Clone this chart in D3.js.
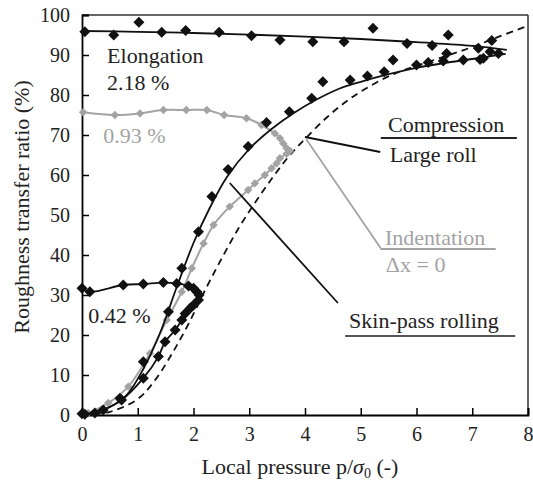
<!DOCTYPE html>
<html>
<head>
<meta charset="utf-8">
<script src="https://cdn.jsdelivr.net/npm/d3@7"></script>
<style>
  body { margin: 0; background: #fff; }
  text { font-family: "Liberation Serif", "Times New Roman", serif; }
</style>
</head>
<body>
<div id="chart"></div>
<script>
var width = 533, height = 483;
var plotLeft = 82, plotRight = 528, plotTop = 15, plotBottom = 415;

var xTicks = [0, 1, 2, 3, 4, 5, 6, 7, 8];
var yTicks = [0, 10, 20, 30, 40, 50, 60, 70, 80, 90, 100];

// elongation 2.18 % (black, top)
var elongPts = [[0.05, 95.8], [0.57, 95.0], [1.02, 98.2], [1.43, 95.7], [1.86, 96.1], [2.46, 95.7],
  [3.04, 94.8], [3.55, 93.75], [4.14, 93.3], [4.70, 93.3], [5.22, 96.7], [5.83, 92.9], [6.28, 92.4],
  [6.57, 95.0], [7.11, 91.7], [7.35, 93.6]];
var elongFit = [[0, 96], [1, 95.8], [2, 95.5], [3, 95.1], [4, 94.6], [5, 94], [6, 93.2], [7, 92.3], [7.62, 91.3]];

// compression / large roll (black, upper rising curve)
var compPts = [[0, 0.3], [0.68, 4.2], [1.10, 13.3], [1.55, 25.8], [1.79, 36.7], [2.09, 45.8], [2.33, 54.6],
  [2.62, 61.4], [2.98, 67.1], [3.31, 73.1], [3.72, 75.8], [4.12, 79.2], [4.32, 83.3], [4.81, 83.75],
  [5.12, 84.75], [5.42, 85.8], [5.58, 88.75], [6.0, 87.5], [6.21, 88.1], [6.48, 88.5], [6.54, 90.4],
  [6.84, 88.75], [7.14, 88.9], [7.2, 89.2], [7.32, 90.8], [7.47, 90.4]];
var compFit = [[0, 0], [0.5, 2], [0.8, 5], [1.1, 11.5], [1.4, 20.5], [1.7, 32], [2.0, 43], [2.3, 52],
  [2.6, 59.5], [3.0, 66.5], [3.4, 71.5], [3.8, 75.5], [4.2, 78.8], [4.6, 81.5], [5.0, 83.3], [5.5, 85.2],
  [6.0, 86.8], [6.5, 88], [7.0, 89], [7.6, 90.3]];

// skin-pass 0.42 % (black, hook)
var skinPts = [[0, 31.7], [0.14, 30.8], [0.74, 32.5], [1.10, 32.75], [1.46, 33.1], [1.70, 32.9],
  [1.91, 32.25], [2.0, 31.7], [2.06, 30.8], [2.10, 30], [2.09, 28.75], [2.0, 27.5], [1.94, 26.7],
  [1.85, 25.4], [1.79, 23.75], [1.67, 21.25], [1.49, 18.3], [1.37, 14.6], [1.10, 9.2], [0.71, 3.75],
  [0.38, 1.25], [0.23, 0.5], [0.05, 0.2]];

// indentation / 0.93 % (grey)
var indentPts = [[0.02, 75.7], [0.59, 75.0], [1.04, 75.4], [1.46, 76.25], [1.87, 76.25], [2.24, 76.25],
  [2.55, 75.0], [2.95, 74.2], [3.22, 72.5], [3.46, 70.4], [3.55, 69.2], [3.61, 67.9], [3.67, 66.7],
  [3.73, 66.0], [3.67, 65.3], [3.55, 64.2], [3.49, 62.9], [3.40, 61.7], [3.28, 60], [3.10, 57.9],
  [2.98, 56.25], [2.65, 52.1], [2.36, 47.5], [2.18, 42.9], [1.97, 36.7], [1.79, 30.8], [1.52, 23.75],
  [1.22, 15.4], [0.83, 7.1], [0.47, 3], [0.11, 0.5]];

// model (dashed)
var modelFit = [[0, 0], [0.5, 0.8], [1.0, 4], [1.3, 8.5], [1.6, 15], [1.9, 22.5], [2.2, 31], [2.5, 39],
  [2.8, 46.5], [3.1, 53], [3.4, 59], [3.7, 64.5], [4.0, 69], [4.4, 74.5], [4.8, 79], [5.2, 82.5],
  [5.6, 85.3], [6.0, 87.3], [6.5, 89.6], [7.0, 92], [7.5, 94.7], [8.0, 97.3]];

var svg = d3.select("#chart").append("svg").attr("width", width).attr("height", height);

var x = d3.scaleLinear().domain([0, 8]).range([plotLeft, plotRight]);
var y = d3.scaleLinear().domain([0, 100]).range([plotBottom, plotTop]);

var smooth = d3.line().x(function(d) { return x(d[0]); }).y(function(d) { return y(d[1]); }).curve(d3.curveCatmullRom.alpha(0.5));

var diamond = function(r) {
  return "M0," + (-r) + "L" + r + ",0L0," + r + "L" + (-r) + ",0Z";
};

// frame
svg.append("line").attr("x1", plotLeft).attr("x2", plotRight).attr("y1", plotTop).attr("y2", plotTop).attr("stroke", "#333").attr("stroke-width", 1.5);
svg.append("line").attr("x1", plotRight).attr("x2", plotRight).attr("y1", plotTop).attr("y2", plotBottom).attr("stroke", "#333").attr("stroke-width", 1.5);

// axes
var xAxis = d3.axisBottom(x).tickValues(xTicks).tickSize(-7).tickPadding(12);
var yAxis = d3.axisLeft(y).tickValues(yTicks).tickSize(-7).tickPadding(12);

var gx = svg.append("g").attr("transform", "translate(0," + plotBottom + ")").call(xAxis);
var gy = svg.append("g").attr("transform", "translate(" + plotLeft + ",0)").call(yAxis);
[gx, gy].forEach(function(g) {
  g.select(".domain").attr("stroke", "#000").attr("stroke-width", 1.8);
  g.selectAll(".tick line").attr("stroke", "#000").attr("stroke-width", 1.5);
  g.selectAll(".tick text").attr("font-family", "Liberation Serif, serif").attr("font-size", 20).attr("fill", "#222");
});

// curves
svg.append("path").attr("d", smooth(modelFit)).attr("fill", "none").attr("stroke", "#111")
  .attr("stroke-width", 1.8).attr("stroke-dasharray", "7,5");

svg.append("path").attr("d", smooth(indentPts)).attr("fill", "none").attr("stroke", "#a3a3a3").attr("stroke-width", 2);
svg.selectAll(".grey").data(indentPts).enter().append("path").attr("class", "grey")
  .attr("d", diamond(4.2)).attr("fill", "#a3a3a3")
  .attr("transform", function(d) { return "translate(" + x(d[0]) + "," + y(d[1]) + ")"; });

svg.append("path").attr("d", smooth(elongFit)).attr("fill", "none").attr("stroke", "#111").attr("stroke-width", 1.8);
svg.append("path").attr("d", smooth(compFit)).attr("fill", "none").attr("stroke", "#111").attr("stroke-width", 1.8);
svg.append("path").attr("d", smooth(skinPts)).attr("fill", "none").attr("stroke", "#111").attr("stroke-width", 1.8);

var black = elongPts.concat(compPts).concat(skinPts);
svg.selectAll(".blk").data(black).enter().append("path").attr("class", "blk")
  .attr("d", diamond(5.5)).attr("fill", "#111")
  .attr("transform", function(d) { return "translate(" + x(d[0]) + "," + y(d[1]) + ")"; });

// annotations (data units)
var labels = [
  {t: "Elongation", x: 0.45, y: 88, c: "#222"},
  {t: "2.18 %", x: 0.45, y: 81.25, c: "#222"},
  {t: "0.93 %", x: 0.38, y: 68, c: "#a3a3a3"},
  {t: "0.42 %", x: 0.11, y: 23, c: "#222"},
  {t: "Compression", x: 5.49, y: 70.75, c: "#222"},
  {t: "Large roll", x: 5.52, y: 63.25, c: "#222"},
  {t: "Indentation", x: 5.435, y: 42.5, c: "#a3a3a3"},
  {t: "\u0394x = 0", x: 5.45, y: 35.75, c: "#a3a3a3"},
  {t: "Skin-pass rolling", x: 4.79, y: 21.75, c: "#222"}
];
svg.selectAll(".lbl").data(labels).enter().append("text").attr("class", "lbl")
  .attr("x", function(d) { return x(d.x); }).attr("y", function(d) { return y(d.y); })
  .attr("font-size", 22).attr("fill", function(d) { return d.c; }).text(function(d) { return d.t; });

var rules = [
  {x1: 5.36, x2: 7.8, y1: 69.25, y2: 69.25, c: "#222"},
  {x1: 5.38, x2: 7.42, y1: 41.5, y2: 41.5, c: "#a3a3a3"},
  {x1: 4.72, x2: 7.77, y1: 19.75, y2: 19.75, c: "#555"},
  {x1: 4.0, x2: 5.35, y1: 69.5, y2: 65.75, c: "#111"},
  {x1: 4.02, x2: 5.38, y1: 69, y2: 41.25, c: "#a3a3a3"},
  {x1: 2.65, x2: 4.59, y1: 58, y2: 28, c: "#111"}
];
svg.selectAll(".rule").data(rules).enter().append("line").attr("class", "rule")
  .attr("x1", function(d) { return x(d.x1); }).attr("x2", function(d) { return x(d.x2); })
  .attr("y1", function(d) { return y(d.y1); }).attr("y2", function(d) { return y(d.y2); })
  .attr("stroke", function(d) { return d.c; }).attr("stroke-width", 1.8);

// axis titles
var xl = svg.append("text").attr("x", 300).attr("y", 474).attr("text-anchor", "middle").attr("font-size", 22).attr("fill", "#222");
xl.append("tspan").text("Local pressure p/");
xl.append("tspan").attr("font-style", "italic").text("\u03c3");
xl.append("tspan").attr("font-size", 14).attr("dy", 4).text("0");
xl.append("tspan").attr("dy", -4).text(" (-)");

svg.append("text").attr("transform", "translate(29,207) rotate(-90)").attr("text-anchor", "middle")
  .attr("font-size", 22).attr("fill", "#222").text("Roughness transfer ratio (%)");
</script>
</body>
</html>
